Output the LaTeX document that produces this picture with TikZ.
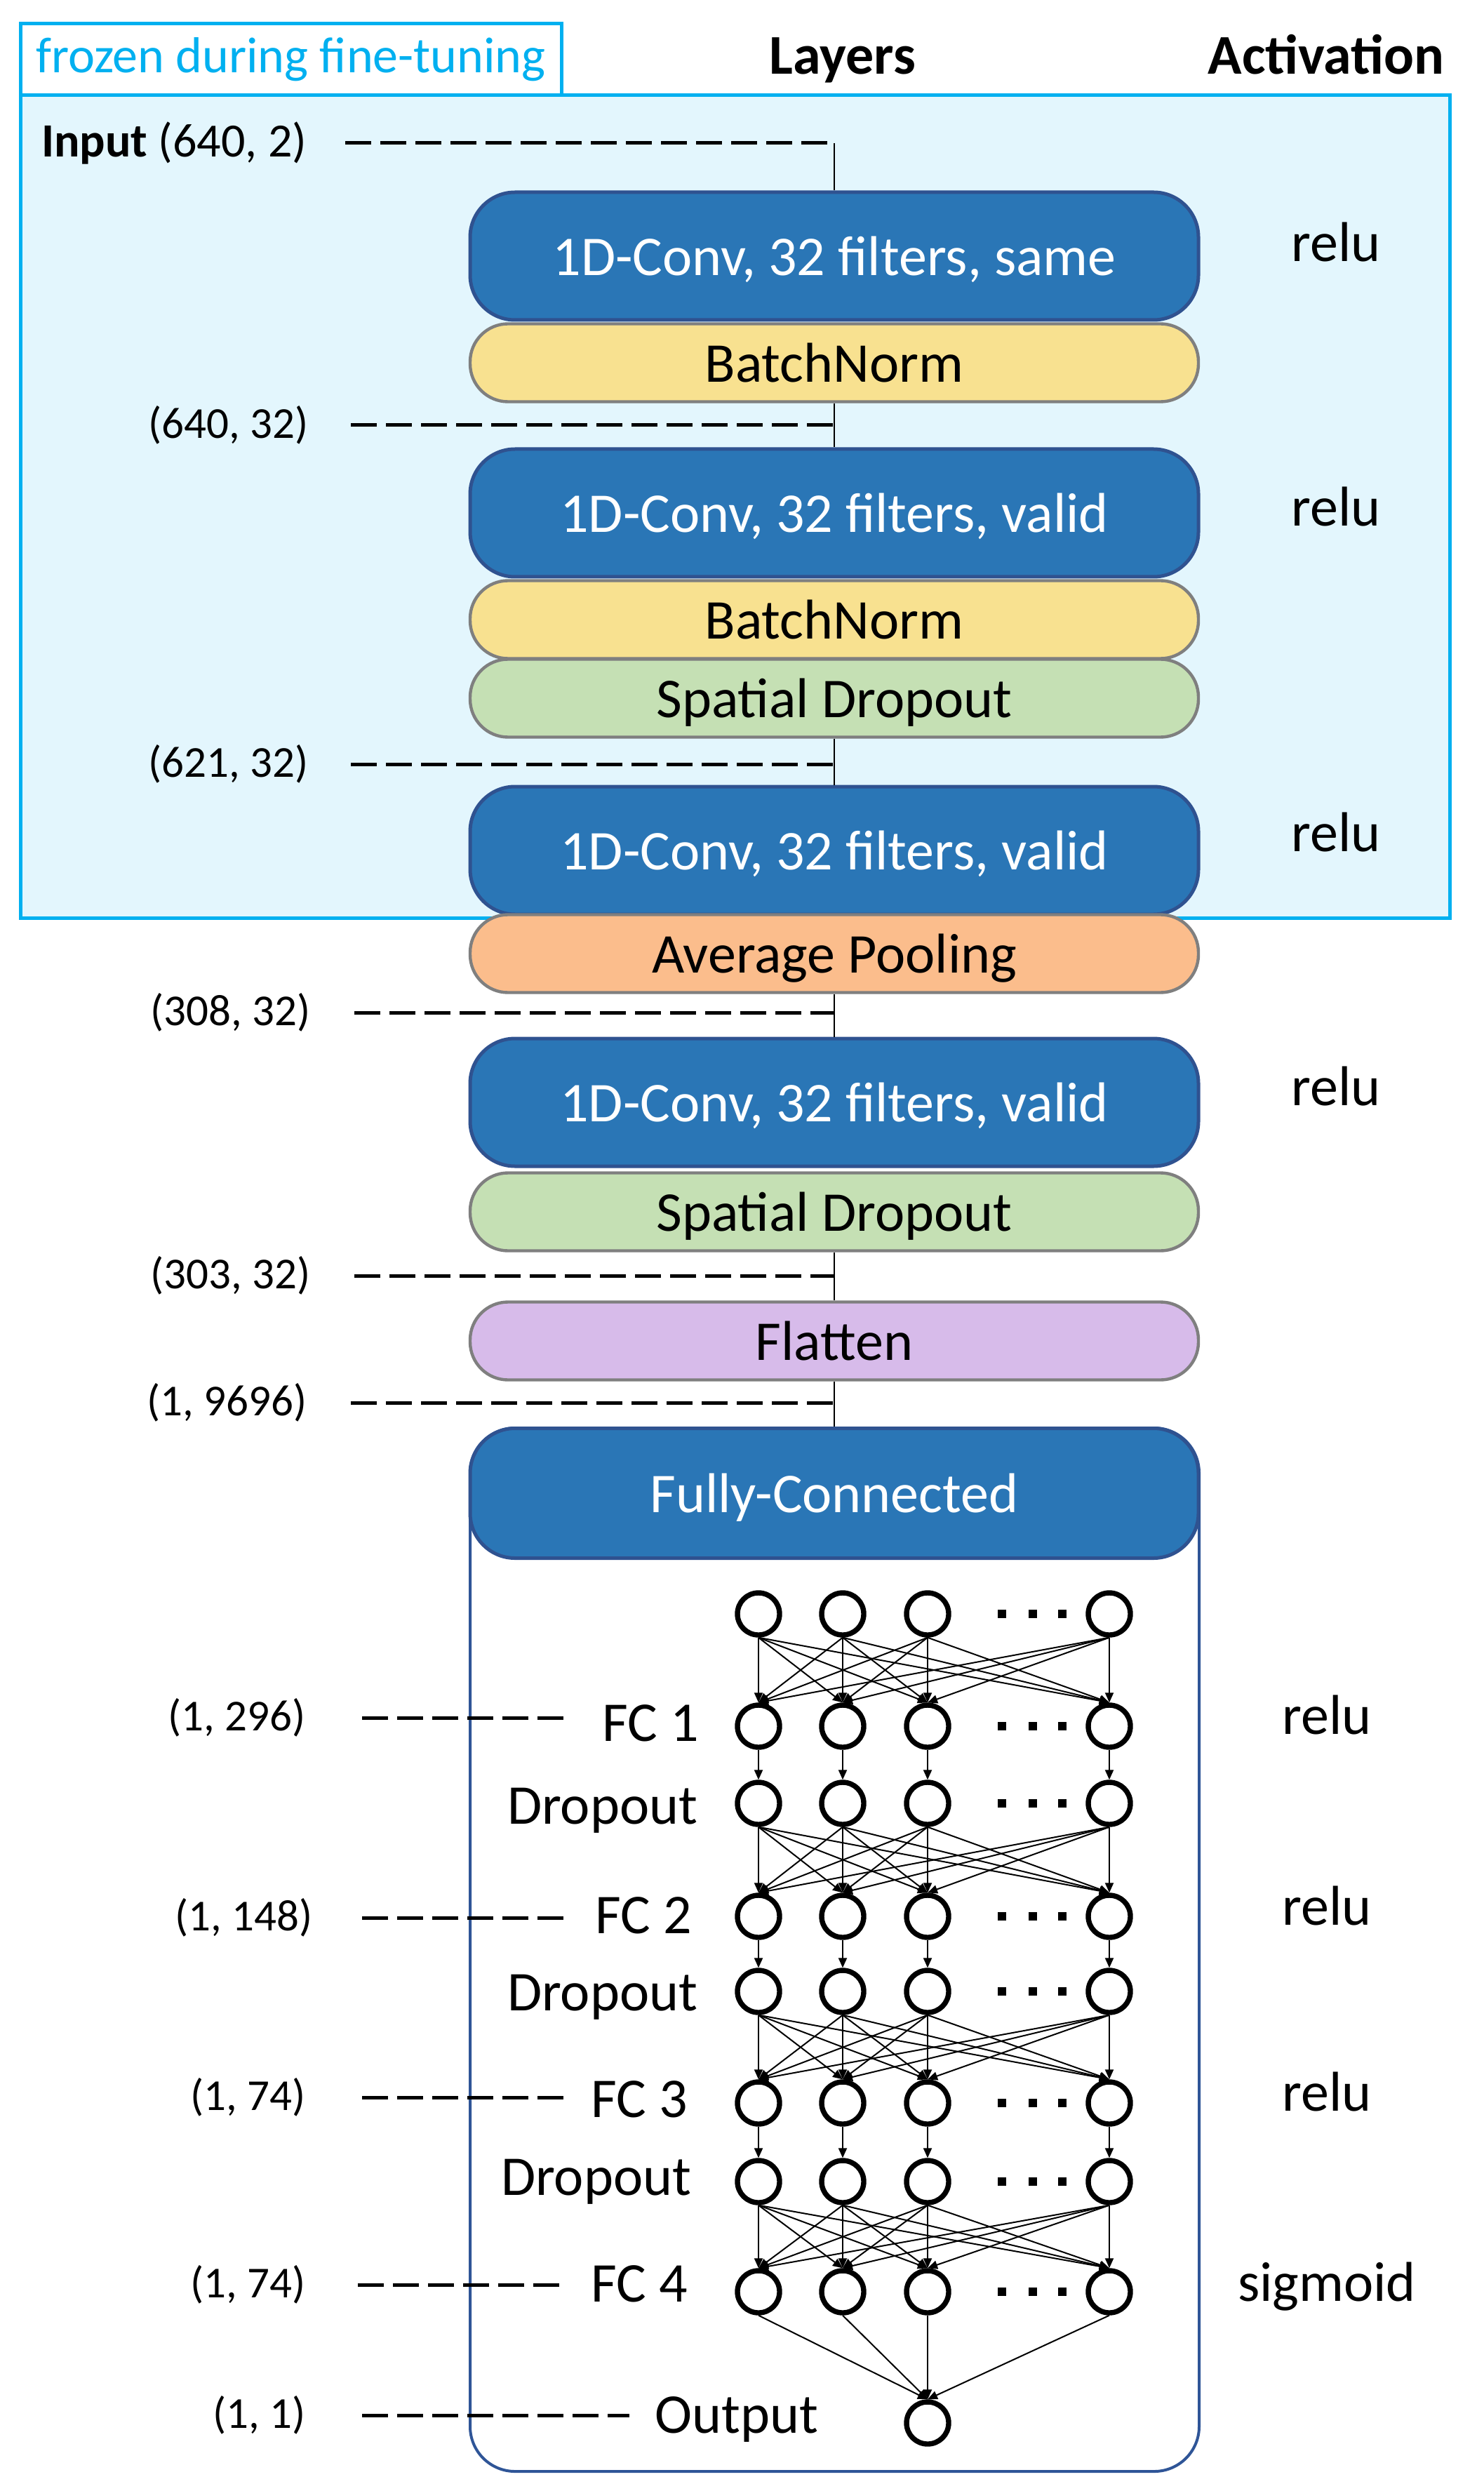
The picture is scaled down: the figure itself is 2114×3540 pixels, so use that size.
\documentclass[tikz,border=0pt]{standalone}
\usepackage{fontspec}
\setmainfont{Carlito}
\usetikzlibrary{arrows.meta}
\definecolor{frzfill}{HTML}{E3F6FD}
\definecolor{frzline}{HTML}{00B0F0}
\definecolor{convfill}{HTML}{2A76B6}
\definecolor{convline}{HTML}{2F5290}
\definecolor{bnfill}{HTML}{F8E190}
\definecolor{sdfill}{HTML}{C5E0B4}
\definecolor{apfill}{HTML}{FBBD8C}
\definecolor{flfill}{HTML}{D7BBEA}
\definecolor{greyline}{HTML}{7F7F7F}
\definecolor{contline}{HTML}{2F5597}
\newcommand\txtL{\fontsize{20pt}{24pt}\selectfont}
\newcommand\txtS{\fontsize{15.75pt}{19pt}\selectfont}
\newcommand\txtF{\fontsize{18pt}{22pt}\selectfont}
\newcommand\txtI{\fontsize{17pt}{20pt}\selectfont}
\tikzset{
 convbox/.style={draw=convline, line width=1.25pt, fill=convfill, rounded corners=16pt, minimum width=259.5pt, minimum height=45.5pt, inner sep=0pt, text depth=0pt, text=white, font=\txtL},
 pillbox/.style={draw=greyline, line width=1.1pt, rounded corners=13.5pt, minimum width=259.5pt, minimum height=27.75pt, inner sep=0pt, text depth=0pt, font=\txtL},
 dimlab/.style={anchor=east, inner sep=0pt, font=\txtS},
 dashln/.style={line width=1.25pt, dash pattern=on 9.25pt off 3.25pt},
 conn/.style={line width=0.7pt},
 neuron/.style={circle, draw, line width=1.85pt, fill=white, minimum size=15pt, inner sep=0pt},
 syn/.style={line width=0.5pt, -{Triangle[length=3.5pt,width=3pt]}},
 laylab/.style={anchor=base east, inner sep=0pt, font=\txtL},
 actlab/.style={anchor=base, inner sep=0pt, font=\txtL},
}
\begin{document}
\begin{tikzpicture}[x=0.25pt, y=-0.25pt]
\useasboundingbox (0,0) rectangle (2114,3540);
% frozen region
\draw[frzline, fill=frzfill, line width=1.25pt] (29,136) rectangle (2066,1308);
\node[draw=frzline, line width=1.25pt, fill=white, minimum width=192.75pt, minimum height=25.5pt, inner sep=0pt, text=frzline, font=\txtF] (frz) at (414.5,85) {frozen during fine-tuning};
% headers
\node[actlab, font=\txtL\bfseries] (hlay) at (1201,106) {Layers};
\node[actlab, font=\txtL\bfseries] (hact) at (1890,106) {Activation};
% FC container
\draw[contline, line width=1pt, fill=white, rounded corners=16pt] (670,2035) rectangle (1709,3522);
% layer boxes
\node[convbox] (conv1) at (1189,365) {1D-Conv, 32 filters, same};
\node[pillbox, fill=bnfill] (bn1) at (1189,517) {BatchNorm};
\node[convbox] (conv2) at (1189,731) {1D-Conv, 32 filters, valid};
\node[pillbox, fill=bnfill] (bn2) at (1189,883) {BatchNorm};
\node[pillbox, fill=sdfill] (sd1) at (1189,995) {Spatial Dropout};
\node[convbox] (conv3) at (1189,1212) {1D-Conv, 32 filters, valid};
\node[pillbox, fill=apfill] (ap) at (1189,1359) {Average Pooling};
\node[convbox] (conv4) at (1189,1571) {1D-Conv, 32 filters, valid};
\node[pillbox, fill=sdfill] (sd2) at (1189,1727) {Spatial Dropout};
\node[pillbox, fill=flfill] (fl) at (1189,1911) {Flatten};
\node[convbox, minimum height=46.25pt] (fch) at (1189,2128) {Fully-Connected};
% connectors
\coordinate (inpt) at (1189,204);
\draw[conn] (inpt) -- (conv1.north);
\draw[conn] (bn1.south) -- (conv2.north);
\draw[conn] (sd1.south) -- (conv3.north);
\draw[conn] (ap.south) -- (conv4.north);
\draw[conn] (sd2.south) -- (fl.north);
\draw[conn] (fl.south) -- (fch.north);
% shape labels, upper part
\node[dimlab, font=\txtI] (linp) at (438,204) {\textbf{Input} (640, 2)};
\draw[dashln] (492,204) -- (inpt);
\node[dimlab] (l1) at (440,606) {(640, 32)};
\draw[dashln] (500,606) -- (1189,606);
\node[dimlab] (l2) at (440,1089) {(621, 32)};
\draw[dashln] (500,1089) -- (1189,1089);
\node[dimlab] (l3) at (443,1443) {(308, 32)};
\draw[dashln] (505,1443) -- (1189,1443);
\node[dimlab] (l4) at (443,1818) {(303, 32)};
\draw[dashln] (505,1818) -- (1189,1818);
\node[dimlab] (l5) at (438,1999) {(1, 9696)};
\draw[dashln] (500,1999) -- (1189,1999);
% activations
\node[actlab] (a1) at (1904,373) {relu};
\node[actlab] (a2) at (1904,750) {relu};
\node[actlab] (a3) at (1904,1213) {relu};
\node[actlab] (a4) at (1904,1575) {relu};
\node[actlab] (a5) at (1891,2471) {relu};
\node[actlab] (a6) at (1891,2743) {relu};
\node[actlab] (a7) at (1891,3008) {relu};
\node[actlab] (a8) at (1891,3279) {sigmoid};
% neurons
\foreach \r/\yy in {0/2300,1/2460,2/2570,3/2731,4/2838,5/2997,6/3109,7/3266} {
  \foreach \c/\xx in {1/1081,2/1201,3/1322,4/1581} {
    \node[neuron] (n\r\c) at (\xx,\yy) {};
  }
  \foreach \dx in {1428,1472,1514} {
    \fill (\dx-6,\yy-6) rectangle (\dx+6,\yy+6);
  }
}
\node[neuron] (out) at (1322,3453) {};
% synapses
\foreach \r in {0,2,4,6} {
  \pgfmathtruncatemacro\nxtrow{\r+1}
  \foreach \a in {1,...,4} {
    \foreach \b in {1,...,4} {
      \draw[syn] (n\r\a.south) -- (n\nxtrow\b.north);
    }
  }
}
\foreach \r in {1,3,5} {
  \pgfmathtruncatemacro\nxtrow{\r+1}
  \foreach \a in {1,...,4} {
    \draw[syn] (n\r\a.south) -- (n\nxtrow\a.north);
  }
}
\foreach \a in {1,...,4} {
  \draw[syn] (n7\a.south) -- (out.north);
}
% FC labels
\node[dimlab] (f1) at (436,2448) {(1, 296)};
\draw[dashln] (516,2448) -- (806,2448);
\node[laylab] (t1) at (997,2481) {FC 1};
\node[laylab] (t2) at (995,2599) {Dropout};
\node[dimlab] (f2) at (446,2733) {(1, 148)};
\draw[dashln] (516,2733) -- (806,2733);
\node[laylab] (t3) at (987,2755) {FC 2};
\node[laylab] (t4) at (995,2865) {Dropout};
\node[dimlab] (f3) at (436,2989) {(1, 74)};
\draw[dashln] (516,2989) -- (806,2989);
\node[laylab] (t5) at (981,3017) {FC 3};
\node[laylab] (t6) at (986,3128) {Dropout};
\node[dimlab] (f4) at (436,3256) {(1, 74)};
\draw[dashln] (510,3256) -- (800,3256);
\node[laylab] (t7) at (981,3280) {FC 4};
\node[dimlab] (f5) at (436,3442) {(1, 1)};
\draw[dashln] (516,3442) -- (897,3442);
\node[actlab, anchor=base west] (t8) at (933,3467) {Output};
\end{tikzpicture}
\end{document}
